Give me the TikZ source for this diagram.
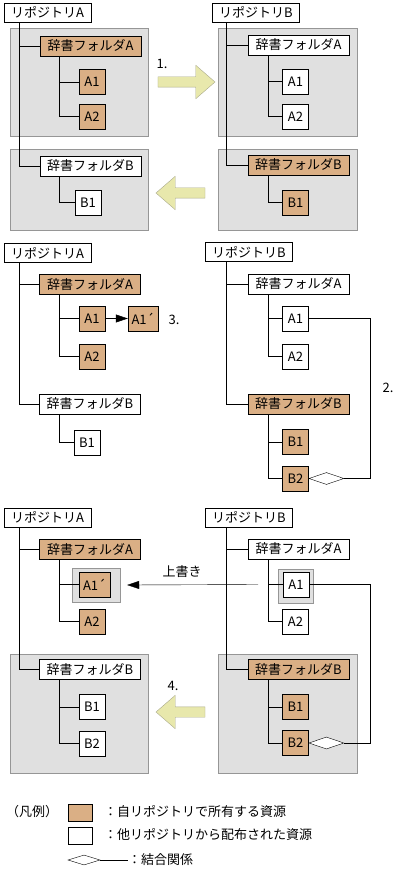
\documentclass[tikz,border=0pt]{standalone}
\usepackage{fontspec}
\setmainfont{Noto Sans CJK JP}
\usetikzlibrary{shapes.geometric,shapes.arrows,arrows.meta}

\definecolor{owncol}{RGB}{218,175,133}
\definecolor{areafill}{RGB}{224,224,224}
\definecolor{arealine}{RGB}{150,150,150}
\definecolor{arrowfill}{RGB}{232,232,172}
\definecolor{arrowline}{RGB}{170,170,140}

\begin{document}
\begin{tikzpicture}[x=1pt,y=-1pt,
        font=\fontsize{13}{15}\selectfont,
        every node/.style={inner sep=0pt},
        repo/.style={draw,fill=white,minimum width=87pt,minimum height=19pt},
        folder/.style={draw,minimum width=101pt,minimum height=20pt},
        res/.style={draw,minimum width=26pt,minimum height=25pt},
        own/.style={fill=owncol},
        dist/.style={fill=white},
        area/.style={draw=arealine,fill=areafill},
        bigarrow/.style={single arrow,draw=arrowline,fill=arrowfill,inner sep=5pt,
            minimum width=33pt,single arrow head extend=11.5pt,single arrow tip angle=82},
        rel/.style={diamond,draw,fill=white,minimum width=35pt,minimum height=12pt},
        push/.style={-{Triangle[length=12pt,width=8pt]}}]

    \fill[white] (0,0) rectangle (411,877);
    \useasboundingbox (0,0) rectangle (411,877);

    % 1. top row
    \draw[area] (10,28) rectangle (148,136);
    \draw[area] (10,149) rectangle (148,230);
    \draw[area] (218,28) rectangle (357,136);
    \draw[area] (218,149) rectangle (357,230);

    \node[repo] (repoA1) at (47.5,12.5) {リポジトリA};
    \node[folder,own] (fldA1) at (90.5,46) {辞書フォルダA};
    \node[res,own] (a11) at (92,82) {A1};
    \node[res,own] (a21) at (92,116.5) {A2};
    \node[folder,dist] (fldB1) at (90.5,166) {辞書フォルダB};
    \node[res,dist] (b11) at (88,202.5) {B1};
    \draw ([xshift=15pt]repoA1.south west) |- (fldA1.west);
    \draw ([xshift=15pt]repoA1.south west) |- (fldB1.west);
    \draw ([xshift=19pt]fldA1.south west) |- (a11.west);
    \draw ([xshift=19pt]fldA1.south west) |- (a21.west);
    \draw ([xshift=19pt]fldB1.south west) |- (b11.west);

    \node[repo] (repoB2) at (256,12.5) {リポジトリB};
    \node[folder,dist] (fldA2) at (298.5,45) {辞書フォルダA};
    \node[res,dist] (a12) at (295.5,81.5) {A1};
    \node[res,dist] (a22) at (295.5,116.5) {A2};
    \node[folder,own] (fldB2) at (298.5,165) {辞書フォルダB};
    \node[res,own] (b12) at (295.5,202.5) {B1};
    \draw ([xshift=14pt]repoB2.south west) |- (fldA2.west);
    \draw ([xshift=14pt]repoB2.south west) |- (fldB2.west);
    \draw ([xshift=20pt]fldA2.south west) |- (a12.west);
    \draw ([xshift=20pt]fldA2.south west) |- (a22.west);
    \draw ([xshift=20pt]fldB2.south west) |- (b12.west);

    \node[bigarrow,minimum height=57pt] (arr1) at (183.5,82) {};
    \node (lbl1) at (162,64) {1.};
    \node[bigarrow,minimum height=49pt,shape border rotate=180] (arr2) at (183.5,193) {};

    % 2. middle row
    \node[repo] (repoA3) at (47.5,253) {リポジトリA};
    \node[folder,own] (fldA3) at (90,284.5) {辞書フォルダA};
    \node[res,own] (a13) at (92,318.5) {A1};
    \node[res,own,minimum width=30pt] (a1p3) at (143,318.5) {A1´};
    \node[res,own] (a23) at (92,356.5) {A2};
    \node[folder,dist] (fldB3) at (90,404) {辞書フォルダB};
    \node[res,dist] (b13) at (87,442.5) {B1};
    \draw ([xshift=15pt]repoA3.south west) |- (fldA3.west);
    \draw ([xshift=15pt]repoA3.south west) |- (fldB3.west);
    \draw ([xshift=20pt]fldA3.south west) |- (a13.west);
    \draw ([xshift=20pt]fldA3.south west) |- (a23.west);
    \draw ([xshift=20pt]fldB3.south west) |- (b13.west);
    \draw[push] (a13) -- (a1p3);
    \node (lbl3) at (174,320) {3.};

    \node[repo] (repoB4) at (249,252) {リポジトリB};
    \node[folder,dist] (fldA4) at (298.5,284) {辞書フォルダA};
    \node[res,dist] (a14) at (295.5,318.5) {A1};
    \node[res,dist] (a24) at (295.5,356.5) {A2};
    \node[folder,own] (fldB4) at (298.5,404) {辞書フォルダB};
    \node[res,own] (b14) at (295.5,442) {B1};
    \node[res,own] (b24) at (295.5,478.5) {B2};
    \draw ([xshift=21pt]repoB4.south west) |- (fldA4.west);
    \draw ([xshift=21pt]repoB4.south west) |- (fldB4.west);
    \draw ([xshift=20pt]fldA4.south west) |- (a14.west);
    \draw ([xshift=20pt]fldA4.south west) |- (a24.west);
    \draw ([xshift=20pt]fldB4.south west) |- (b14.west);
    \draw ([xshift=20pt]fldB4.south west) |- (b24.west);
    \node[rel,anchor=west] (dm4) at (b24.east) {};
    \draw (a14.east) -| ([xshift=26pt]dm4.east) -- (dm4.east);
    \node (lbl2) at (388,388) {2.};

    % 3. bottom row
    \draw[area] (10,654) rectangle (148,773);
    \draw[area] (218,654) rectangle (357,773);
    \node[area,minimum width=48pt,minimum height=34pt] (ov5) at (96,585) {};
    \node[area,minimum width=35pt,minimum height=34pt] (ov6) at (295.5,586) {};

    \node[repo] (repoA5) at (47.5,517.5) {リポジトリA};
    \node[folder,own] (fldA5) at (90,549.5) {辞書フォルダA};
    \node[res,own,minimum width=31pt] (a1p5) at (94.5,584.5) {A1´};
    \node[res,own] (a25) at (92,621.5) {A2};
    \node[folder,dist] (fldB5) at (90,669.5) {辞書フォルダB};
    \node[res,dist] (b15) at (92,707) {B1};
    \node[res,dist] (b25) at (92,743.5) {B2};
    \draw ([xshift=15pt]repoA5.south west) |- (fldA5.west);
    \draw ([xshift=15pt]repoA5.south west) |- (fldB5.west);
    \draw ([xshift=20pt]fldA5.south west) |- (a1p5.west);
    \draw ([xshift=20pt]fldA5.south west) |- (a25.west);
    \draw ([xshift=20pt]fldB5.south west) |- (b15.west);
    \draw ([xshift=20pt]fldB5.south west) |- (b25.west);

    \node[repo] (repoB6) at (249,517.5) {リポジトリB};
    \node[folder,dist] (fldA6) at (298.5,549) {辞書フォルダA};
    \node[res,dist] (a16) at (296,584.5) {A1};
    \node[res,dist] (a26) at (295.5,621.5) {A2};
    \node[folder,own] (fldB6) at (298.5,669.5) {辞書フォルダB};
    \node[res,own] (b16) at (295.5,707) {B1};
    \node[res,own] (b26) at (295.5,743) {B2};
    \draw ([xshift=21pt]repoB6.south west) |- (fldA6.west);
    \draw ([xshift=21pt]repoB6.south west) |- (fldB6.west);
    \draw ([xshift=20pt]fldA6.south west) |- (a16.west);
    \draw ([xshift=20pt]fldA6.south west) |- (a26.west);
    \draw ([xshift=20pt]fldB6.south west) |- (b16.west);
    \draw ([xshift=20pt]fldB6.south west) |- (b26.west);
    \node[rel,anchor=west] (dm6) at (b26.east) {};
    \draw (a16.east) -| ([xshift=26pt]dm6.east) -- (dm6.east);

    \coordinate (ovs) at (258,584.5);
    \draw[push] (ovs) -- ([xshift=7pt]ov5.east);
    \node (ovlbl) at (182,572) {上書き};
    \node[bigarrow,minimum height=49pt,shape border rotate=180] (arr4) at (183.5,712) {};
    \node (lbl4) at (173,686) {4.};

    % legend
    \node (lgd) at (32,812) {（凡例）};
    \node[draw,own,minimum width=24pt,minimum height=17pt] (lgOwn) at (80,812.5) {};
    \node[draw,dist,minimum width=24pt,minimum height=17pt] (lgDist) at (80,835.5) {};
    \node[rel,minimum width=32pt,minimum height=10pt] (lgRel) at (84,860) {};
    \coordinate (lgEnd) at (128,860);
    \draw (lgRel.east) -- (lgEnd);
    \node[anchor=west] (lgOwnT) at (104,812) {：自リポジトリで所有する資源};
    \node[anchor=west] (lgDistT) at (104,835) {：他リポジトリから配布された資源};
    \node[anchor=west] (lgRelT) at (128,860) {：結合関係};
\end{tikzpicture}
\end{document}
